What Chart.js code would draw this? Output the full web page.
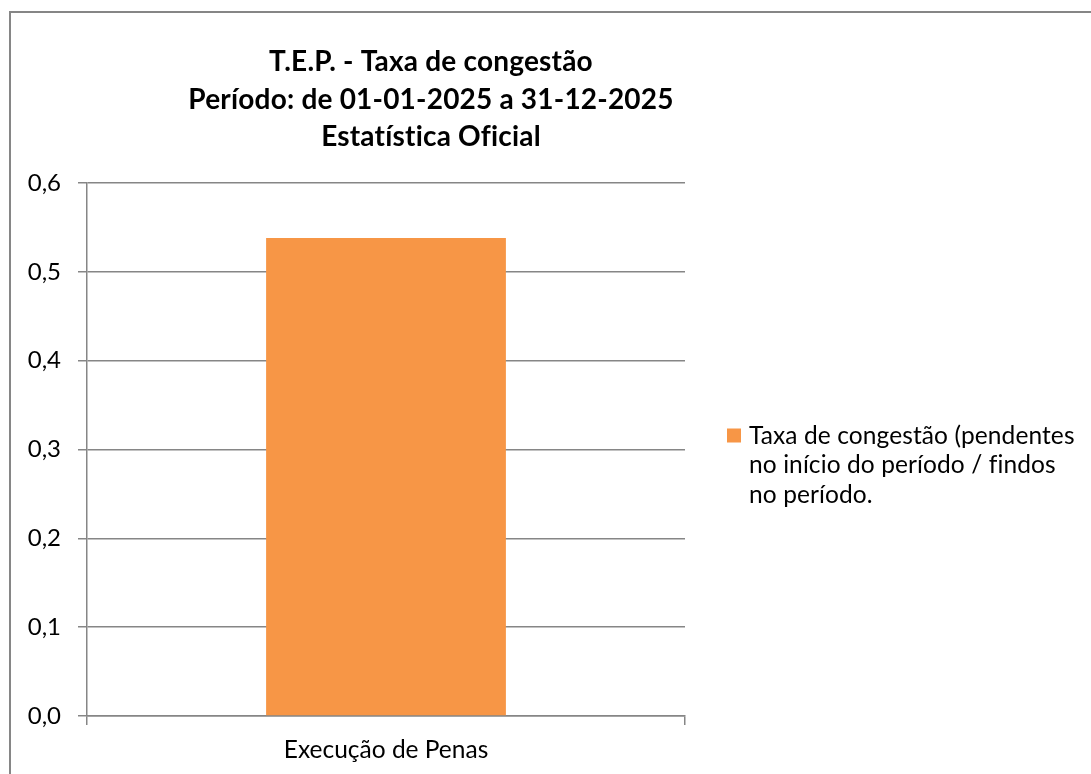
<!DOCTYPE html>
<html>
<head>
<meta charset="utf-8">
<script src="https://cdn.jsdelivr.net/npm/chart.js@4.4.1/dist/chart.umd.min.js"></script>
<style>
  body{margin:0;background:#fff;overflow:hidden;}
  #frame{position:absolute;left:9px;top:11px;width:1100px;height:800px;border:2px solid #868686;box-sizing:border-box;}
  #myChart{position:absolute;left:0;top:0;}
</style>
</head>
<body>
<div id="frame"></div>
<canvas id="myChart" width="1091" height="774"></canvas>
<script>
// data
const categories=['Execução de Penas'];
const congestionValues=[0.538];
const yTickMin=0, yTickMax=0.6, yTickStep=0.1;
const seriesLabel='Taxa de congestão (pendentes no início do período / findos no período.';
const titleLines=['T.E.P. - Taxa de congestão','Período: de 01-01-2025 a 31-12-2025','Estatística Oficial'];
const legendLines=['Taxa de congestão (pendentes','no início do período / findos','no período.'];

const FONT="Lato, 'Open Sans', sans-serif";
const barColor='#F79646';
const gridColor='#868686';

// title drawn above plot (excel centers it a bit right of the plot)
const titlePlugin={
  id:'excelTitle',
  afterDraw(chart){
    const ctx=chart.ctx;
    ctx.save();
    ctx.fillStyle='#000';
    ctx.font='bold 28px '+FONT;
    ctx.letterSpacing='0.2px'; // also kills the ti/fi ligatures
    ctx.textAlign='center';
    ctx.textBaseline='alphabetic';
    titleLines.forEach((t,i)=>{
      ctx.fillText(t,431,71+i*37.5);
    })
    ctx.restore();
  }
}

// legend with wrapped text, right side
const legendPlugin={
  id:'wrapLegend',
  afterDraw(chart){
    const ctx=chart.ctx;
    const area=chart.chartArea;
    const yc=(area.top+area.bottom)/2;
    ctx.save();
    ctx.fillStyle=barColor;
    ctx.fillRect(727,yc-21,14,14);
    ctx.fillStyle='#000';
    ctx.font='24.5px '+FONT;
    ctx.letterSpacing='0.1px';
    ctx.textAlign='left';
    ctx.textBaseline='alphabetic';
    legendLines.forEach((t,i)=>{
      ctx.fillText(t,749,yc-6+i*29.5);
    })
    ctx.restore();
  }
}

const ctx=document.getElementById('myChart').getContext('2d');
new Chart(ctx,{
  type:'bar',
  data:{
    labels:categories,
    datasets:[{
      label:seriesLabel,
      data:congestionValues,
      backgroundColor:barColor,
      borderWidth:0,
      barPercentage:0.401,
      categoryPercentage:1
    }]
  },
  options:{
    responsive:false,
    animation:false,
    devicePixelRatio:1,
    layout:{padding:{left:0,top:183,right:406,bottom:0}},
    plugins:{
      legend:{display:false},
      title:{display:false},
      tooltip:{enabled:false}
    },
    scales:{
      x:{
        grid:{drawOnChartArea:false,drawTicks:true,tickLength:9,color:gridColor,lineWidth:1.5},
        border:{color:gridColor,width:1.5},
        ticks:{color:'#000',font:{family:FONT,size:24.5},padding:10},
        afterFit(s){s.height=58}
      },
      y:{
        min:yTickMin,max:yTickMax,
        grid:{color:gridColor,lineWidth:1.5,tickLength:9},
        border:{color:gridColor,width:1.5},
        ticks:{stepSize:yTickStep,color:'#000',font:{family:FONT,size:24},padding:17,
          callback:v=>v.toFixed(1).replace('.',',')},
        afterFit(s){s.width=87}
      }
    }
  },
  plugins:[titlePlugin,legendPlugin]
});
</script>
</body>
</html>
